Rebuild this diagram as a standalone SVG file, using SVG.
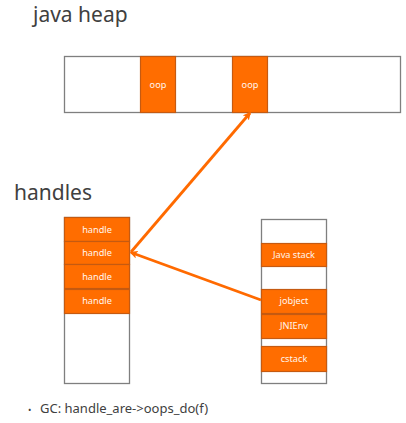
<svg xmlns="http://www.w3.org/2000/svg" width="406" height="423" viewBox="0 0 406 423">
<style>
.title{font-family:"Noto Sans","Open Sans",sans-serif;font-size:21px;fill:#404040}
.box{fill:#ffffff;stroke:#7f7f7f;stroke-width:1.3}
.cell{fill:#ff6d00;stroke:#c55a11;stroke-width:1.2}
.lbl{font-family:"Noto Sans","Open Sans",sans-serif;font-size:9.2px;fill:#fff5ee;text-anchor:middle}
.conn{stroke:#ff6a00;stroke-width:2.8;fill:none}
.note{font-family:"Noto Sans","Open Sans",sans-serif;font-size:13px;fill:#404040}
</style>
<defs>
<marker id="ah" markerWidth="8" markerHeight="8" refX="6.5" refY="4" orient="auto" markerUnits="userSpaceOnUse" viewBox="0 0 8 8">
<path d="M0,0 L8,4 L0,8 L2,4 Z" fill="#ff6a00"/>
</marker>
</defs>
<rect width="406" height="423" fill="#ffffff"/>
<text class="title" x="33" y="22">java heap</text>
<g id="heap">
<rect class="box" x="64.5" y="56.5" width="336" height="56"/>
</g>
<g id="oop1">
<rect class="cell" x="140.5" y="56.5" width="35" height="56"/>
<text class="lbl" x="158" y="88">oop</text>
</g>
<g id="oop2">
<rect class="cell" x="232.5" y="56.5" width="35" height="56"/>
<text class="lbl" x="250" y="88">oop</text>
</g>
<text class="title" x="14" y="200">handles</text>
<g id="handles">
<rect class="box" x="64.5" y="217.5" width="65" height="166"/>
</g>
<g id="handle1">
<rect class="cell" x="64.5" y="217.5" width="65" height="24"/>
<text class="lbl" x="97" y="232.5">handle</text>
</g>
<g id="handle2">
<rect class="cell" x="64.5" y="241.5" width="65" height="23"/>
<text class="lbl" x="97" y="255.5">handle</text>
</g>
<g id="handle3">
<rect class="cell" x="64.5" y="264.5" width="65" height="24"/>
<text class="lbl" x="97" y="279.5">handle</text>
</g>
<g id="handle4">
<rect class="cell" x="64.5" y="289.5" width="65" height="24"/>
<text class="lbl" x="97" y="304">handle</text>
</g>
<g id="thread">
<rect class="box" x="261.5" y="219.5" width="65" height="164"/>
</g>
<g id="javastack">
<rect class="cell" x="261.5" y="243.5" width="65" height="23"/>
<text class="lbl" x="294" y="258">Java stack</text>
</g>
<g id="jobject">
<rect class="cell" x="261.5" y="289.5" width="65" height="24"/>
<text class="lbl" x="294" y="304">jobject</text>
</g>
<g id="jnienv">
<rect class="cell" x="261.5" y="314.5" width="65" height="24"/>
<text class="lbl" x="294" y="329">JNIEnv</text>
</g>
<g id="cstack">
<rect class="cell" x="261.5" y="346.5" width="65" height="25"/>
<text class="lbl" x="294" y="362">cstack</text>
</g>
<g id="connectors">
<line class="conn" x1="261" y1="300" x2="131" y2="252.5" marker-end="url(#ah)"/>
<line class="conn" x1="131" y1="252" x2="250" y2="113" marker-end="url(#ah)"/>
</g>
<text class="note" x="28" y="413"><tspan font-size="9">•</tspan><tspan x="40">GC: handle_are-&gt;oops_do(f)</tspan></text>
</svg>
